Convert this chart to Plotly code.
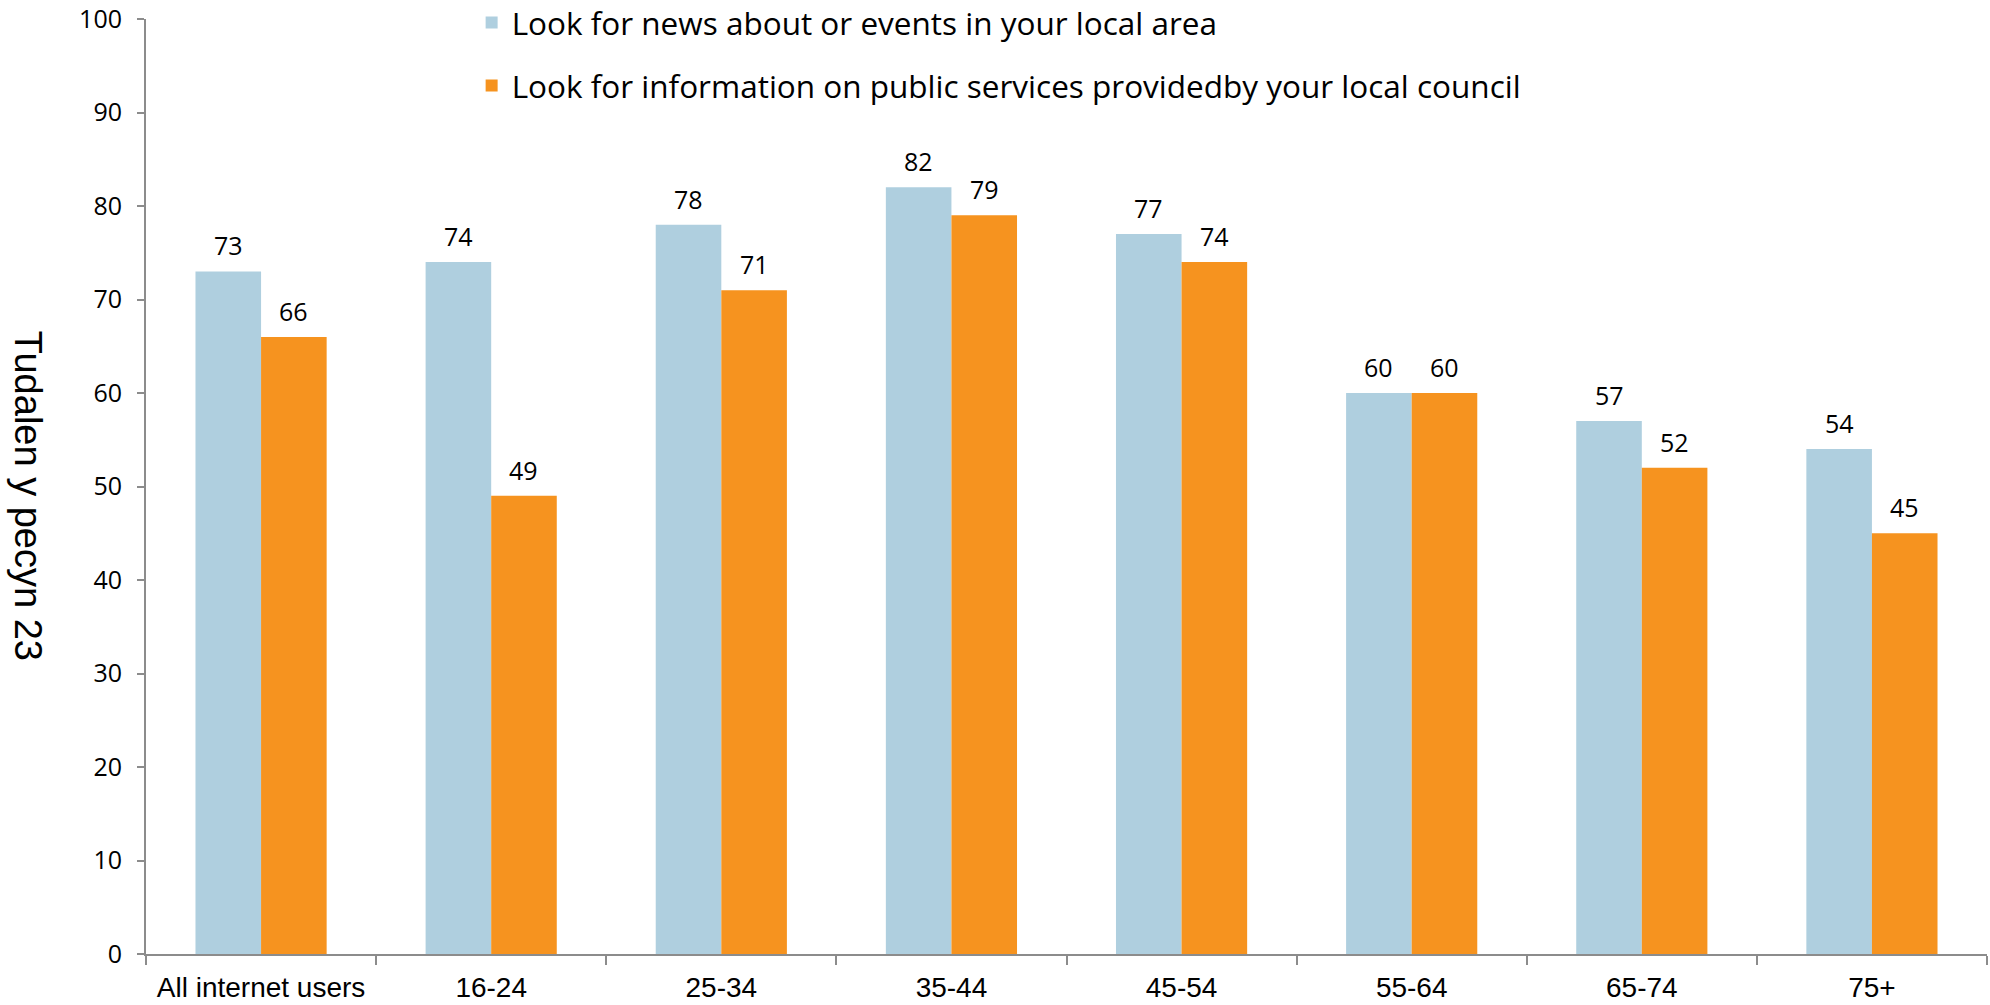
import plotly.graph_objects as go

# Survey categories and percentage values for each activity
categories = ["All internet users", "16-24", "25-34", "35-44", "45-54", "55-64", "65-74", "75+"]
local_news = [73, 74, 78, 82, 77, 60, 57, 54]
council_info = [66, 49, 71, 79, 74, 60, 52, 45]
series_names = [
    "Look for news about or events in your local area",
    "Look for information on public services providedby your local council",
]
y_ticks = [0, 10, 20, 30, 40, 50, 60, 70, 80, 90, 100]

BLUE = "#AFCFDF"
ORANGE = "#F6931F"
AXIS = "#8C8C8C"

W, H = 1990, 1005
M_L, M_R, M_T, M_B = 146, 3, 19, 51
BARGAP = 0.43

fig = go.Figure()
for name, vals, color, grp in [
    (series_names[0], local_news, BLUE, "a"),
    (series_names[1], council_info, ORANGE, "b"),
]:
    fig.add_trace(go.Bar(
        x=categories, y=vals, name=name, marker=dict(color=color, line=dict(width=0)),
        legendgroup=grp, hoverinfo="skip",
    ))

# Value labels above each bar
plot_w = W - M_L - M_R
bar_w = plot_w / len(categories) * (1 - BARGAP) / 2
for vals, sign in [(local_news, -1), (council_info, 1)]:
    for c, v in zip(categories, vals):
        fig.add_annotation(
            x=c, y=v, text=str(v), showarrow=False,
            xshift=sign * bar_w / 2, yshift=26, yanchor="middle",
            font=dict(family="Open Sans", size=25, color="#000000"),
        )

# Vertical axis title, reading top to bottom
fig.add_annotation(
    xref="paper", yref="paper", x=-0.064, y=0.49, text="Tudalen y pecyn 23",
    textangle=90, showarrow=False, xanchor="center", yanchor="middle",
    font=dict(family="Liberation Sans", size=38, color="#000000"),
)

fig.update_layout(
    width=W, height=H,
    margin=dict(l=M_L, r=M_R, t=M_T, b=M_B, autoexpand=False),
    paper_bgcolor="white", plot_bgcolor="white",
    barmode="group", bargap=BARGAP, bargroupgap=0,
    showlegend=True,
    legend=dict(
        xref="container", yref="paper", x=0.237, y=1.025, xanchor="left", yanchor="top",
        traceorder="grouped", tracegroupgap=19,
        font=dict(family="Open Sans", size=31.5, color="#000000"),
        bgcolor="rgba(0,0,0,0)", itemwidth=30,
    ),
    xaxis=dict(
        type="category", showline=True, linecolor=AXIS, linewidth=2,
        ticks="outside", tickson="boundaries", ticklen=9, tickcolor=AXIS, tickwidth=2,
        tickfont=dict(family="Liberation Sans", size=28, color="#000000"),
        tickangle=0, showgrid=False, zeroline=False, ticklabelstandoff=7,
    ),
    yaxis=dict(
        range=[0, 100], tickvals=y_ticks, showline=True, linecolor=AXIS, linewidth=2,
        ticks="outside", ticklen=7, tickcolor=AXIS, tickwidth=2,
        tickfont=dict(family="Open Sans", size=25, color="#000000"),
        showgrid=False, zeroline=False, ticklabelstandoff=10,
    ),
)

fig.write_html("out.html")
